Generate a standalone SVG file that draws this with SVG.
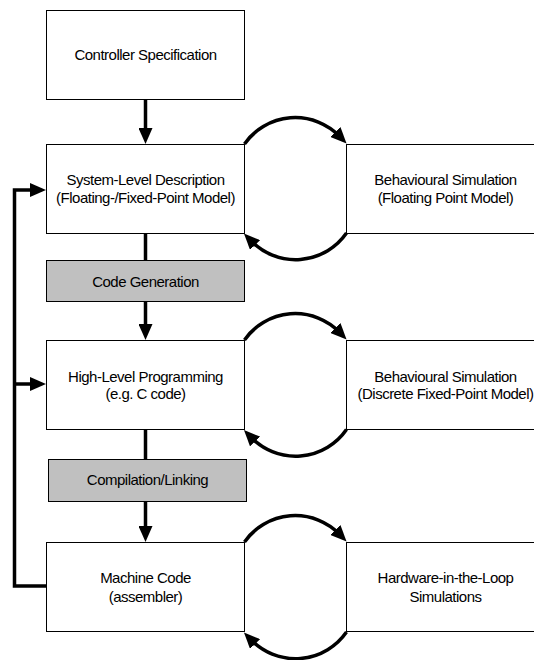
<svg xmlns="http://www.w3.org/2000/svg" width="534" height="660" viewBox="0 0 534 660">
  <style>
    .box { fill: #ffffff; stroke: #000000; stroke-width: 1; }
    .step { fill: #c0c0c0; stroke: #000000; stroke-width: 1; }
    .lbl { font-family: "Liberation Sans", Arial, sans-serif; font-size: 15px; letter-spacing: -0.5px; fill: #000000; text-anchor: middle; }
    .wire { fill: none; stroke: #000000; stroke-width: 3.5; }
  </style>
  <defs>
    <marker id="head" markerUnits="userSpaceOnUse" markerWidth="16" markerHeight="14" viewBox="0 0 16 14" refX="6" refY="7" orient="auto">
      <path d="M0,0 L16,7 L0,14 z" fill="#000000"/>
    </marker>
  </defs>

  <rect width="534" height="660" fill="#ffffff"/>

  <g id="controller-spec">
    <rect class="box" x="46.5" y="10.5" width="198" height="89"/>
    <text class="lbl" x="145.5" y="59.5">Controller Specification</text>
  </g>

  <g id="system-level">
    <rect class="box" x="46.5" y="144.5" width="198" height="89"/>
    <text class="lbl" x="145.5" y="185">System-Level Description</text>
    <text class="lbl" x="145.5" y="203">(Floating-/Fixed-Point Model)</text>
  </g>

  <g id="sim-floating">
    <rect class="box" x="346.5" y="144.5" width="198" height="89"/>
    <text class="lbl" x="445.5" y="185">Behavioural Simulation</text>
    <text class="lbl" x="445.5" y="203">(Floating Point Model)</text>
  </g>

  <g id="code-generation">
    <rect class="step" x="46.5" y="260.5" width="198" height="41"/>
    <text class="lbl" x="145.5" y="286.5">Code Generation</text>
  </g>

  <g id="high-level">
    <rect class="box" x="46.5" y="340.5" width="198" height="89"/>
    <text class="lbl" x="145.5" y="382">High-Level Programming</text>
    <text class="lbl" x="145.5" y="399">(e.g. C code)</text>
  </g>

  <g id="sim-discrete">
    <rect class="box" x="346.5" y="340.5" width="198" height="89"/>
    <text class="lbl" x="445.5" y="382">Behavioural Simulation</text>
    <text class="lbl" x="445.5" y="399">(Discrete Fixed-Point Model)</text>
  </g>

  <g id="compilation">
    <rect class="step" x="48.5" y="459.5" width="198" height="42"/>
    <text class="lbl" x="147.5" y="485">Compilation/Linking</text>
  </g>

  <g id="machine-code">
    <rect class="box" x="46.5" y="542.5" width="198" height="89"/>
    <text class="lbl" x="145.5" y="583">Machine Code</text>
    <text class="lbl" x="145.5" y="601.5">(assembler)</text>
  </g>

  <g id="sim-hil">
    <rect class="box" x="346.5" y="542.5" width="198" height="89"/>
    <text class="lbl" x="445.5" y="583">Hardware-in-the-Loop</text>
    <text class="lbl" x="445.5" y="601.5">Simulations</text>
  </g>

  <g id="connectors">
    <!-- main flow -->
    <path class="wire" d="M145.5,99.5 V134" marker-end="url(#head)"/>
    <path class="wire" d="M145.5,233.5 V260.5"/>
    <path class="wire" d="M145.5,301.5 V330" marker-end="url(#head)"/>
    <path class="wire" d="M145.5,429.5 V459.5"/>
    <path class="wire" d="M145.5,501.5 V532" marker-end="url(#head)"/>

    <!-- feedback from machine code -->
    <path class="wire" d="M46.5,586 H14.5 V190 H36" marker-end="url(#head)"/>
    <path class="wire" d="M14.5,384 H36" marker-end="url(#head)"/>

    <!-- simulation loops -->
    <path class="wire" d="M244.5,144 A62,62 0 0 1 339.6,136.3" marker-end="url(#head)"/>
    <path class="wire" d="M346.5,233 A62,62 0 0 1 250.9,240.7" marker-end="url(#head)"/>

    <path class="wire" d="M244.5,340 A62,62 0 0 1 339.6,332.3" marker-end="url(#head)"/>
    <path class="wire" d="M346.5,429.5 A62,62 0 0 1 250.9,437.2" marker-end="url(#head)"/>

    <path class="wire" d="M244.5,542 A62,62 0 0 1 339.6,534.3" marker-end="url(#head)"/>
    <path class="wire" d="M346.5,632 A62,62 0 0 1 250.9,639.7" marker-end="url(#head)"/>
  </g>
</svg>
